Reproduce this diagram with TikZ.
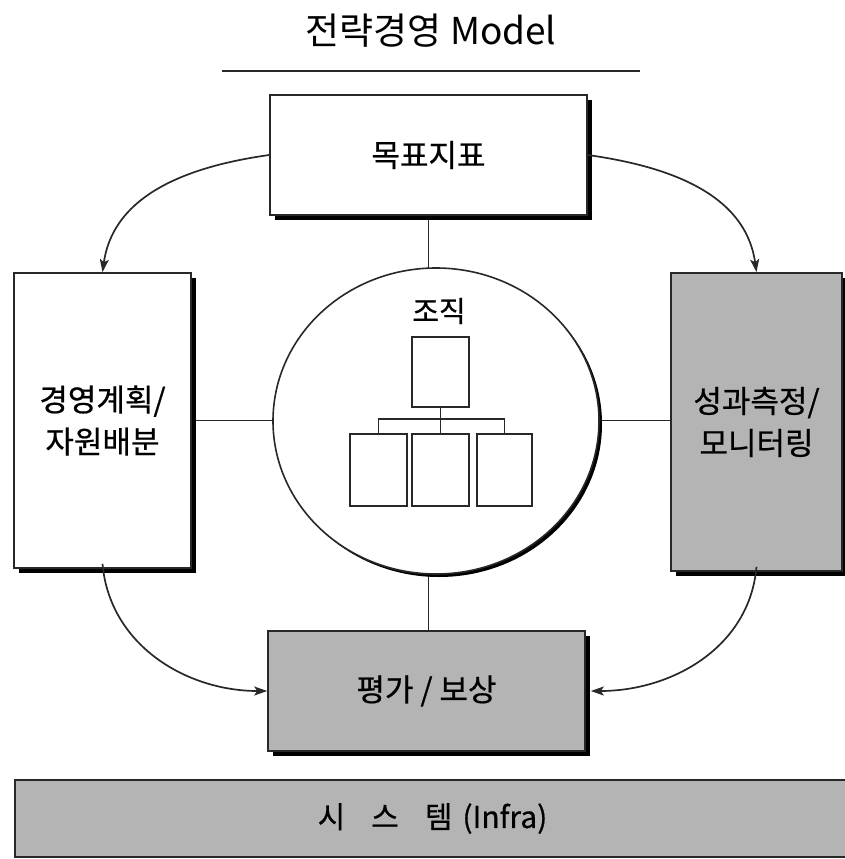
\documentclass[tikz,border=0pt]{standalone}
\usepackage{fontspec}
\setmainfont{Noto Sans CJK KR}
\newfontfamily\labelfont{Noto Sans CJK KR}[FakeBold=0.6]
\usetikzlibrary{shapes.geometric,shadows,arrows.meta,backgrounds}
\definecolor{boxgray}{RGB}{180,180,180}
\definecolor{edge}{RGB}{40,40,40}
\begin{document}
\begin{tikzpicture}[x=1pt,y=-1pt,
  blockbox/.style={rectangle, draw=edge, line width=1.6pt, inner sep=0pt, align=center,
    font=\labelfont\fontsize{31}{42}\selectfont,
    drop shadow={shadow xshift=5pt, shadow yshift=-5pt, fill=black, opacity=1}},
  whitebox/.style={blockbox, fill=white},
  graybox/.style={blockbox, fill=boxgray},
  orgbox/.style={rectangle, draw=edge, line width=1.4pt, fill=white, inner sep=0pt,
    minimum width=57pt},
  link/.style={draw=edge, line width=1.5pt},
  flow/.style={draw=edge, line width=1.7pt, -{Stealth[length=13pt,width=9pt,inset=3pt]}}]
\useasboundingbox (0,0) rectangle (845,859);

% title
\node (title) at (431,31) {\fontsize{37}{42}\selectfont 전략경영 Model};
\coordinate (ulA) at (222,71);
\coordinate (ulB) at (640,71);
\draw[draw=edge, line width=1.7pt] (ulA) -- (ulB);

% main blocks
\node[whitebox, minimum width=317pt, minimum height=120pt] (goal) at (428.5,155) {목표지표};
\node[whitebox, minimum width=177pt, minimum height=295pt] (plan) at (102.5,420.5) {경영계획/\\자원배분};
\node[graybox, minimum width=171pt, minimum height=298pt] (measure) at (756.5,422) {성과측정/\\모니터링};
\node[graybox, minimum width=317pt, minimum height=120pt] (reward) at (426.5,691) {평가 / 보상};
\node[rectangle, draw=edge, line width=1.6pt, fill=boxgray, inner sep=0pt,
      minimum width=835pt, minimum height=77pt, font=\labelfont\fontsize{30}{34}\selectfont]
      (infra) at (432.5,818.5) {시\hspace{26pt}스\hspace{26pt}템\hspace{10pt}(Infra)};

% organisation ellipse
\node[ellipse, draw=edge, line width=1.6pt, fill=white, inner sep=0pt,
      minimum width=326pt, minimum height=306pt,
      drop shadow={shadow xshift=3pt, shadow yshift=-3pt, fill=black, opacity=1}]
      (org) at (436,421) {};
\node[font=\labelfont\fontsize{29}{32}\selectfont] (orgtitle) at (439,311) {조직};

% small organisation chart
\node[orgbox, minimum height=70pt] (head) at (440.5,372) {};
\node[orgbox, minimum height=72pt] (unitA) at (378.5,470) {};
\node[orgbox, minimum height=72pt] (unitB) at (440.5,470) {};
\node[orgbox, minimum width=55pt, minimum height=72pt] (unitC) at (504.5,470) {};
\coordinate (bus) at (440.5,419);
\draw[link] (head.south) -- (unitB.north);
\draw[link] (unitA.north) |- (bus) -| (unitC.north);

% spokes from the blocks to the ellipse
\begin{scope}[on background layer]
  \draw[link] (goal.south) -- (goal.south |- reward.north);
  \draw[link] (plan.east) -- (plan.east -| measure.west);
\end{scope}

% cycle arrows
\draw[flow] (goal.west) to[out=188, in=82] (plan.north);
\draw[flow] (goal.east) to[out=-8, in=98] (measure.north);
\draw[flow] ([yshift=5pt]plan.south) to[out=-85, in=180] (reward.west);
\draw[flow] ([yshift=5pt]measure.south) to[out=-95, in=0] ([xshift=5pt]reward.east);
\end{tikzpicture}
\end{document}
